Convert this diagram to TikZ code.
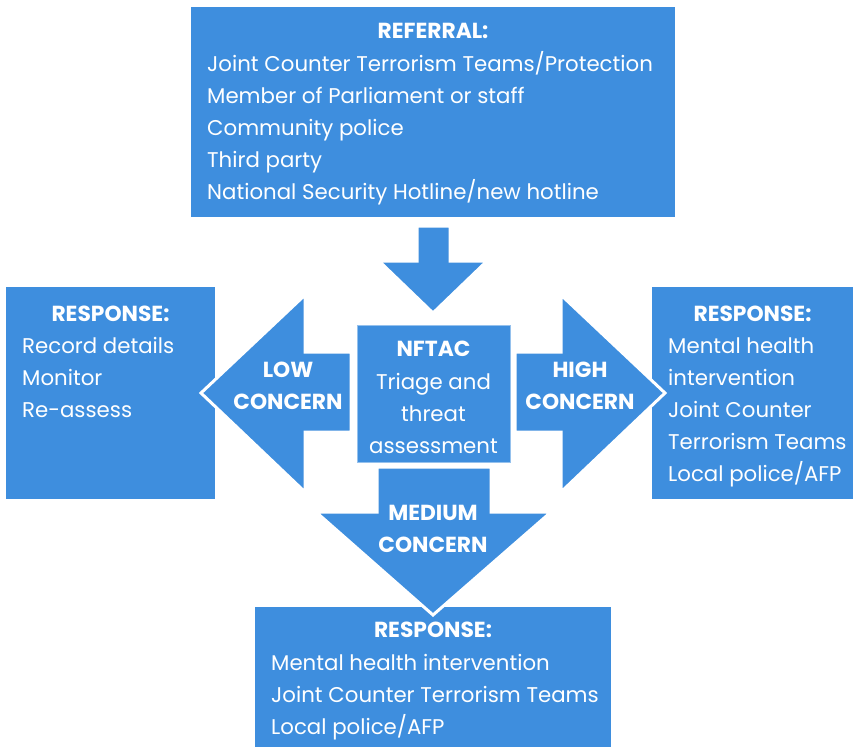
\documentclass[tikz,border=0pt]{standalone}
\usepackage{fontspec}
\setmainfont{Poppins}
\definecolor{flowblue}{RGB}{62,142,222}
\tikzset{
  panel/.style={fill=flowblue, inner sep=0pt, outer sep=0pt},
  bigarrow/.style={fill=flowblue, draw=white, line width=3pt, line join=miter},
  heading/.style={text=white, font=\fontsize{21.8}{25}\selectfont\bfseries, anchor=base, inner sep=0pt},
  entry/.style={text=white, font=\fontsize{21.3}{26}\selectfont, anchor=base west, inner sep=0pt},
  centred/.style={text=white, font=\fontsize{21.3}{26}\selectfont, anchor=base, inner sep=0pt}
}
\begin{document}
\begin{tikzpicture}[x=1pt,y=-1pt]
\useasboundingbox (0,0) rectangle (857,747);

\node[panel, minimum width=484pt, minimum height=210pt] (referral) at (433,112) {};
\node[panel, minimum width=209pt, minimum height=212pt] (lowbox) at (110.5,393) {};
\node[panel, minimum width=201pt, minimum height=212pt] (highbox) at (752.5,393) {};
\node[panel, minimum width=356pt, minimum height=142pt] (medbox) at (433,678) {};

\draw[bigarrow] (417,226) -- (450,226) -- (450,261) -- (487,261) -- (433,313) -- (379,261) -- (417,261) -- cycle;
\draw[bigarrow] (351,352) -- (305,352) -- (305,295) -- (201,393) -- (305,492) -- (305,432) -- (351,432) -- cycle;
\draw[bigarrow] (515,352) -- (561,352) -- (561,295) -- (665,393) -- (561,492) -- (561,432) -- (515,432) -- cycle;
\draw[bigarrow] (377,467) -- (491,467) -- (491,512) -- (551,512) -- (433,615) -- (316,512) -- (377,512) -- cycle;

\node[panel, draw=flowblue!55!white, line width=1pt, minimum width=153pt, minimum height=137pt] (nftac) at (433.5,393.5) {};

\node[heading] (referraltitle) at (433,38) {REFERRAL:};
\foreach \t [count=\i] in {Joint Counter Terrorism Teams/Protection, Member of Parliament or staff, Community police, Third party, National Security Hotline/new hotline}
  \node[entry] (referral\i) at (207,{39+32*\i}) {\t};

\node[heading] (lowtitle) at (110.5,321) {RESPONSE:};
\foreach \t [count=\i] in {Record details, Monitor, Re-assess}
  \node[entry] (low\i) at (22,{321+32*\i}) {\t};

\node[heading] (hightitle) at (752.5,321) {RESPONSE:};
\foreach \t [count=\i] in {Mental health, intervention, Joint Counter, Terrorism Teams, Local police/AFP}
  \node[entry] (high\i) at (668,{321+32*\i}) {\t};

\node[heading] (medtitle) at (433,637) {RESPONSE:};
\foreach \t [count=\i] in {Mental health intervention, Joint Counter Terrorism Teams, Local police/AFP}
  \node[entry] (med\i) at (271,{638+32*\i}) {\t};

\node[heading] (nftactitle) at (433.5,356) {NFTAC};
\foreach \t [count=\i] in {Triage and, threat, assessment}
  \node[centred] (nftac\i) at (433.5,{357+32*\i}) {\t};

\node[heading] (lowlabel1) at (288,377) {LOW};
\node[heading] (lowlabel2) at (288,409) {CONCERN};
\node[heading] (highlabel1) at (580,377) {HIGH};
\node[heading] (highlabel2) at (580,409) {CONCERN};
\node[heading] (medlabel1) at (433,520) {MEDIUM};
\node[heading] (medlabel2) at (433,552) {CONCERN};
\end{tikzpicture}
\end{document}
